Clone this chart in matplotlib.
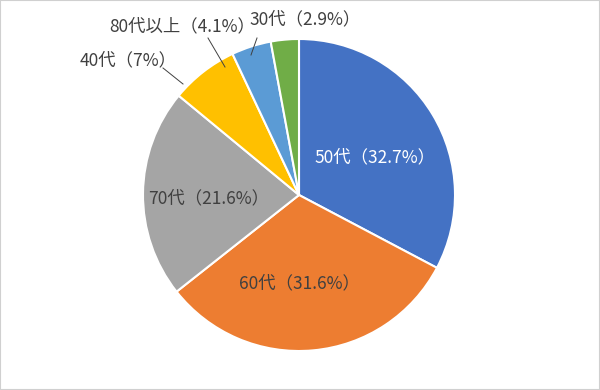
import matplotlib
matplotlib.use("Agg")
import matplotlib.pyplot as plt

plt.rcParams["font.family"] = ["Noto Sans CJK JP", "DejaVu Sans"]

# data (clockwise from 12 o'clock)
categories = ["50代", "60代", "70代", "40代", "80代以上", "30代"]
shares = [32.7, 31.6, 21.6, 7, 4.1, 2.9]
share_labels = ["32.7%", "31.6%", "21.6%", "7%", "4.1%", "2.9%"]
colors = ["#4472C4", "#ED7D31", "#A5A5A5", "#FFC000", "#5B9BD5", "#70AD47"]

W, H = 600, 390
fig = plt.figure(figsize=(W / 100, H / 100), dpi=100)
fig.patches.append(plt.Rectangle((0, 0), 1, 1, transform=fig.transFigure,
                                 fill=False, edgecolor="#D0D0D0", linewidth=1.5))

cx, cy, r = 299, 195, 156
ax = fig.add_axes([(cx - r) / W, (H - cy - r) / H, 2 * r / W, 2 * r / H])
wedges, _ = ax.pie(shares, colors=colors, startangle=90, counterclock=False,
                   wedgeprops=dict(edgecolor="white", linewidth=1.5))
ax.set_xlim(-1, 1)
ax.set_ylim(-1, 1)
ax.set_aspect("equal")
ax.axis("off")


def px(x, y):
    # pixel position in the picture -> data coordinates of the pie axes
    return ((x - cx) / r, (cy - y) / r)


labels = [f"{c}（{s}）" for c, s in zip(categories, share_labels)]
fs = 12.5
txt = "#404040"

# inside labels
ax.text(*px(375, 157), labels[0], color="white", fontsize=fs, ha="center", va="center")
ax.text(*px(299, 283), labels[1], color=txt, fontsize=fs, ha="center", va="center")
ax.text(*px(209, 198), labels[2], color=txt, fontsize=fs, ha="center", va="center")

# outside labels with leader lines
outside = [
    (3, (128, 60), [(163, 68), (183, 84)]),
    (4, (182, 26), [(208, 38), (225, 67)]),
    (5, (305, 19), [(257, 38), (251, 55)]),
]
for i, (tx, ty), seg in outside:
    ax.text(*px(tx, ty), labels[i], color=txt, fontsize=fs, ha="center", va="center")
    (x0, y0), (x1, y1) = px(*seg[0]), px(*seg[1])
    ax.plot([x0, x1], [y0, y1], color="#404040", linewidth=0.7, clip_on=False)

fig.savefig("out.png", dpi=100)
